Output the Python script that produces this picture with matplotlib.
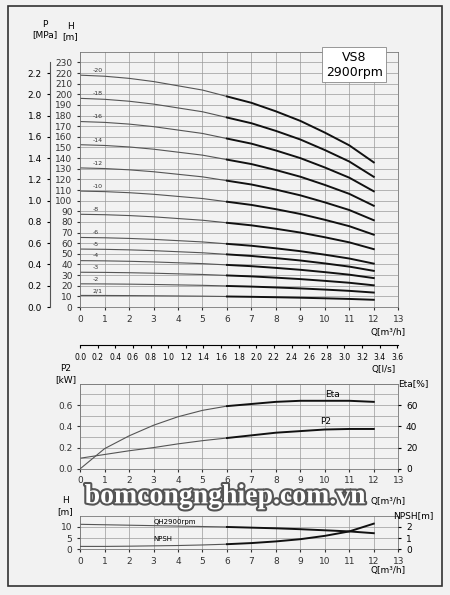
import matplotlib
matplotlib.use("Agg")
import matplotlib.pyplot as plt
import matplotlib.patheffects as pe
import numpy as np

stages = [20, 18, 16, 14, 12, 10, 8, 6, 5, 4, 3, 2, 1]
stage_labels = ["-20", "-18", "-16", "-14", "-12", "-10", "-8", "-6", "-5", "-4", "-3", "-2", "2/1"]
q = [0, 1, 2, 3, 4, 5, 6, 7, 8, 9, 10, 11, 12]
h_stage = [10.9, 10.85, 10.75, 10.6, 10.4, 10.2, 9.9, 9.6, 9.2, 8.75, 8.2, 7.6, 6.8]
eta = [0, 19, 31, 41, 49, 55, 59, 61, 63, 64, 64, 64, 63]
p2 = [0.10, 0.135, 0.17, 0.20, 0.235, 0.265, 0.29, 0.315, 0.34, 0.355, 0.37, 0.375, 0.375]
qh1 = [11.2, 11.0, 10.8, 10.6, 10.4, 10.2, 10.0, 9.7, 9.4, 9.0, 8.5, 8.0, 7.2]
npsh = [0.25, 0.25, 0.27, 0.3, 0.33, 0.38, 0.45, 0.55, 0.7, 0.9, 1.2, 1.6, 2.3]

fs = 6.5
gc = "#9a9a9a"
fig = plt.figure(figsize=(4.5, 5.95), dpi=100, facecolor="#f2f2f2")
fig.patches.append(plt.Rectangle((0.018, 0.015), 0.964, 0.975, transform=fig.transFigure,
                                 fill=False, lw=1.2, ec="#333333"))

def style(ax, xmax=13):
    ax.set_facecolor("#f2f2f2")
    ax.set_xlim(0, xmax)
    ax.set_xticks(range(0, 14))
    ax.tick_params(labelsize=fs, length=2, colors="#333333")
    for s in ax.spines.values():
        s.set_color("#777777"); s.set_linewidth(0.6)
    ax.grid(True, which="both", color=gc, lw=0.5)

def draw(ax, x, y, **kw):
    x = np.array(x); y = np.array(y)
    ax.plot(x[x <= 6], y[x <= 6], color="#555555", lw=0.8, **kw)
    ax.plot(x[x >= 6], y[x >= 6], color="#111111", lw=1.4, **kw)

# top H axes
ax = fig.add_axes([0.178, 0.484, 0.707, 0.429])
style(ax)
ax.set_ylim(0, 240)
ax.set_yticks(range(0, 240, 10))
for st, lab in zip(stages, stage_labels):
    hv = [st * v for v in h_stage]
    draw(ax, q, hv)
    ax.text(0.5, hv[0] + 3, lab, fontsize=4.5, color="#333333")
ax.text(12.6, -20, "Q[m³/h]", fontsize=fs, ha="center", va="top")
ax.text(-0.4, 250, "H\n[m]", fontsize=fs, ha="center", va="bottom")
ax.text(11.2, 228, "VS8\n2900rpm", fontsize=9, ha="center", va="center",
        bbox=dict(fc="white", ec="#888888", lw=0.6, boxstyle="square,pad=0.3"))

# P axis
axp = ax.twinx()
axp.set_ylim(0, 2.4)
axp.yaxis.set_ticks_position("left")
axp.yaxis.set_label_position("left")
axp.spines["left"].set_position(("outward", 22))
axp.spines["left"].set_bounds(0, 2.3)
for s in ["top", "right", "bottom"]:
    axp.spines[s].set_visible(False)
axp.spines["left"].set_color("#555555")
axp.set_yticks(np.arange(0, 2.3, 0.2))
axp.set_yticklabels([f"{v:.1f}" for v in np.arange(0, 2.3, 0.2)])
axp.tick_params(labelsize=fs, length=2)
axp.text(-0.11, 2.52, "P\n[MPa]", transform=axp.get_yaxis_transform(), fontsize=fs,
         ha="center", va="bottom")

# l/s axis
ls_ticks = np.arange(0, 3.61, 0.2)
axl = fig.add_axes([0.178, 0.42, 0.707, 0.001])
axl.set_facecolor("none")
axl.set_xlim(0, 13 / 3.6)
for s in ["top", "left", "right"]:
    axl.spines[s].set_visible(False)
axl.set_yticks([])
axl.set_xticks(ls_ticks)
axl.set_xticklabels([f"{v:.1f}" for v in ls_ticks])
axl.tick_params(labelsize=5.5, length=2)
axl.annotate("Q[l/s]", xy=(3.45, 0), xycoords=axl.get_xaxis_transform(),
             xytext=(0, -14), textcoords="offset points", fontsize=fs, ha="center", va="top")

# middle axes
am = fig.add_axes([0.178, 0.212, 0.707, 0.143])
style(am)
am.set_ylim(0, 0.8)
am.set_yticks([0, 0.2, 0.4, 0.6])
am.set_yticks(np.arange(0, 0.81, 0.1), minor=True)
am.tick_params(which="minor", length=0)
am.set_yticklabels(["0.0", "0.2", "0.4", "0.6"])
ame = am.twinx()
ame.set_ylim(0, 80)
ame.set_yticks([0, 20, 40, 60])
ame.tick_params(labelsize=fs, length=2)
for s in ame.spines.values():
    s.set_visible(False)
draw(am, q, p2)
draw(ame, q, eta)
ame.text(10.0, 68, "Eta", fontsize=fs)
ame.text(9.8, 42, "P2", fontsize=fs)
am.text(-0.6, 0.8, "P2\n[kW]", fontsize=fs, ha="center", va="bottom")
ame.text(13.6, 80, "Eta[%]", fontsize=fs, ha="center", va="center")
am.text(12.6, -0.26, "Q[m³/h]", fontsize=fs, ha="center", va="top")

# bottom axes
ab = fig.add_axes([0.178, 0.077, 0.707, 0.056])
style(ab)
ab.set_ylim(0, 15)
ab.set_yticks([0, 5, 10])
abn = ab.twinx()
abn.set_ylim(0, 3)
abn.set_yticks([0, 1, 2])
abn.tick_params(labelsize=fs, length=2)
for s in abn.spines.values():
    s.set_visible(False)
draw(ab, q, qh1)
draw(abn, q, npsh)
ab.text(3.0, 11.3, "QH2900rpm", fontsize=5)
ab.text(3.0, 3.8, "NPSH", fontsize=5)
ab.text(-0.6, 15, "H\n[m]", fontsize=fs, ha="center", va="bottom")
abn.text(13.6, 3, "NPSH[m]", fontsize=fs, ha="center", va="center")
ab.text(12.6, -7.5, "Q[m³/h]", fontsize=fs, ha="center", va="top")

# watermark
fig.text(0.5, 0.165, "bomcongnghiep.com.vn", fontsize=20, fontweight="bold",
         family="Liberation Serif", ha="center", va="center", color="white",
         path_effects=[pe.withStroke(linewidth=3, foreground="#555555")])

fig.savefig("out.png", dpi=100, facecolor=fig.get_facecolor())
